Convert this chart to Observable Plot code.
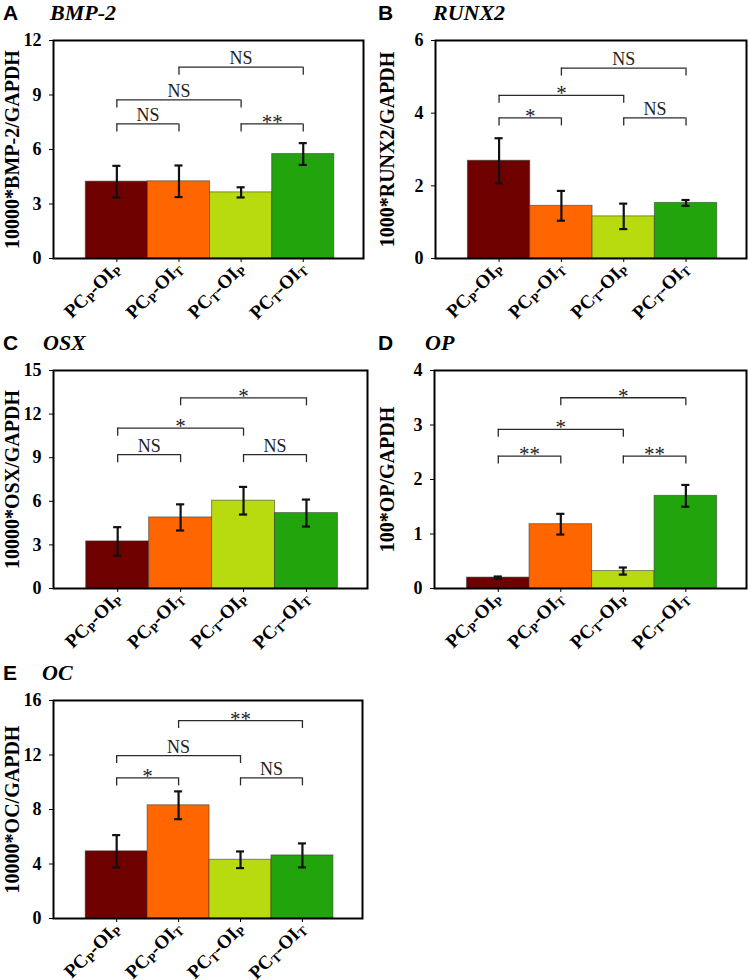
<!DOCTYPE html>
<html><head><meta charset="utf-8">
<script src="https://cdn.jsdelivr.net/npm/d3@7"></script>
<script src="https://cdn.jsdelivr.net/npm/@observablehq/plot@0.6"></script>
<style>
body{margin:0;background:#fff;width:750px;height:980px;position:relative;overflow:hidden}
.panel{position:absolute;width:375px;height:330px}
.panel svg{position:absolute;left:0;top:25px;overflow:visible}
.letter{position:absolute;top:0;font:bold 21px/1 "Liberation Sans",Arial,sans-serif;color:#000}
.gene{position:absolute;top:0;font:italic bold 22px/1 "Liberation Serif","Times New Roman",serif;color:#000}
</style></head><body>
<script>
// ---- data ----
const groups = ["PCP-OIP", "PCP-OIT", "PCT-OIP", "PCT-OIT"];
const groupColors = ["#6e0000", "#ff6600", "#b7db0e", "#22a50c"];
const bracketPairs = [[0, 1], [2, 3], [0, 2], [1, 3]];

const bmp2Mean = [4.23, 4.25, 3.64, 5.75];
const bmp2Err = [0.87, 0.87, 0.28, 0.60];
const bmp2Ticks = [0, 3, 6, 9, 12];
const bmp2BracketLevels = [7.41, 7.41, 8.73, 10.53];
const bmp2BracketLabels = ["NS", "**", "NS", "NS"];

const runx2Mean = [2.69, 1.45, 1.16, 1.53];
const runx2Err = [0.62, 0.41, 0.35, 0.08];
const runx2Ticks = [0, 2, 4, 6];
const runx2BracketLevels = [3.87, 3.87, 4.49, 5.24];
const runx2BracketLabels = ["*", "NS", "*", "NS"];

const osxMean = [3.24, 4.89, 6.04, 5.19];
const osxErr = [0.98, 0.90, 0.95, 0.93];
const osxTicks = [0, 3, 6, 9, 12, 15];
const osxBracketLevels = [9.21, 9.21, 11.03, 13.12];
const osxBracketLabels = ["NS", "NS", "*", "*"];

const opMean = [0.20, 1.18, 0.32, 1.70];
const opErr = [0.02, 0.19, 0.065, 0.20];
const opTicks = [0, 1, 2, 3, 4];
const opBracketLevels = [2.43, 2.43, 2.92, 3.50];
const opBracketLabels = ["**", "**", "*", "*"];

const ocMean = [4.93, 8.31, 4.31, 4.63];
const ocErr = [1.19, 1.02, 0.61, 0.88];
const ocTicks = [0, 4, 8, 12, 16];
const ocBracketLevels = [10.32, 10.32, 11.96, 14.53];
const ocBracketLabels = ["*", "NS", "NS", "**"];

const panels = [
  {letter: "A", gene: "BMP-2", label: "10000*BMP-2/GAPDH", mean: bmp2Mean, err: bmp2Err, ticks: bmp2Ticks, levels: bmp2BracketLevels, labels: bmp2BracketLabels,
   left: 0, top: 0, geneX: 50, ml: 53, mr: 12},
  {letter: "B", gene: "RUNX2", label: "1000*RUNX2/GAPDH", mean: runx2Mean, err: runx2Err, ticks: runx2Ticks, levels: runx2BracketLevels, labels: runx2BracketLabels,
   left: 375, top: 0, geneX: 58, ml: 60, mr: 4},
  {letter: "C", gene: "OSX", label: "10000*OSX/GAPDH", mean: osxMean, err: osxErr, ticks: osxTicks, levels: osxBracketLevels, labels: osxBracketLabels,
   left: 0, top: 330, geneX: 43, ml: 53, mr: 8},
  {letter: "D", gene: "OP", label: "100*OP/GAPDH", mean: opMean, err: opErr, ticks: opTicks, levels: opBracketLevels, labels: opBracketLabels,
   left: 375, top: 330, geneX: 50, ml: 59, mr: 4},
  {letter: "E", gene: "OC", label: "10000*OC/GAPDH", mean: ocMean, err: ocErr, ticks: ocTicks, levels: ocBracketLevels, labels: ocBracketLabels,
   left: 0, top: 660, geneX: 42, ml: 53, mr: 13}
];

const serif = '"Liberation Serif","Times New Roman",serif';

function drawPanel(p) {
  const div = document.createElement("div");
  div.className = "panel";
  div.style.left = p.left + "px";
  div.style.top = p.top + "px";
  document.body.appendChild(div);
  const l = document.createElement("div");
  l.className = "letter"; l.style.left = "3px"; l.style.top = "2px"; l.textContent = p.letter;
  const g = document.createElement("div");
  g.className = "gene"; g.style.left = p.geneX + "px"; g.style.top = "2px"; g.textContent = p.gene;
  div.appendChild(l); div.appendChild(g);

  const ymax = p.ticks[p.ticks.length - 1];
  const frameH = 218;
  const tip = 8 / frameH * ymax;
  const cap = 0.065;
  const rows = groups.map((name, i) => ({i, name, mean: p.mean[i], err: p.err[i], color: groupColors[i]}));
  const br = bracketPairs.map(([a, b], k) => ({a, b, level: p.levels[k], label: p.labels[k]}));
  const tips = br.flatMap(d => [{x: d.a, level: d.level}, {x: d.b, level: d.level}]);

  const plot = Plot.plot({
    width: 375, height: 300,
    marginTop: 15, marginBottom: 67, marginLeft: p.ml, marginRight: p.mr,
    style: {fontFamily: serif, fontWeight: "bold", fontSize: "18px", color: "#000", background: "transparent"},
    x: {domain: [-1.02, 3.97]},
    y: {domain: [0, ymax]},
    marks: [
      Plot.rectY(rows, {x1: d => d.i - 0.5, x2: d => d.i + 0.5, y1: 0, y2: "mean", fill: "color", stroke: "#333", strokeOpacity: 0.55, strokeWidth: 1}),
      Plot.ruleX(rows, {x: "i", y1: d => d.mean - d.err, y2: d => d.mean + d.err, stroke: "#111", strokeWidth: 2.2}),
      Plot.ruleY(rows, {y: d => d.mean - d.err, x1: d => d.i - cap, x2: d => d.i + cap, stroke: "#111", strokeWidth: 2.2}),
      Plot.ruleY(rows, {y: d => d.mean + d.err, x1: d => d.i - cap, x2: d => d.i + cap, stroke: "#111", strokeWidth: 2.2}),
      Plot.ruleY(br, {y: "level", x1: "a", x2: "b", stroke: "#2a2a2a", strokeWidth: 1.3}),
      Plot.ruleX(tips, {x: "x", y1: "level", y2: d => d.level - tip, stroke: "#2a2a2a", strokeWidth: 1.3}),
      Plot.text(br.filter(d => d.label === "NS"), {x: d => (d.a + d.b) / 2, y: "level", text: "label", lineAnchor: "bottom", dy: -3,
        fontFamily: serif, fontWeight: "normal", fontSize: 18, fill: "#222"}),
      Plot.text(br.filter(d => d.label !== "NS"), {x: d => (d.a + d.b) / 2, y: "level", text: "label", lineAnchor: "bottom", dy: 5,
        fontFamily: serif, fontWeight: "normal", fontSize: 21, fill: "#222"}),
      Plot.axisY({ticks: p.ticks, tickFormat: d3.format("d"), tickSize: 4, tickPadding: 8, fontSize: 18, label: p.label, labelAnchor: "center", labelArrow: "none", labelOffset: p.ml - 4}),
      Plot.axisX({ticks: [0, 1, 2, 3], tickFormat: i => groups[i], tickSize: 4, tickPadding: 3, tickRotate: -45, fontSize: 19, label: null}),
      Plot.frame({stroke: "#000", strokeWidth: 2})
    ]
  });
  div.appendChild(plot);

  const svg = d3.select(plot);
  svg.selectAll('g[aria-label="y-axis label"] text').style("font-size", "20px").style("font-weight", "bold");
  svg.selectAll('g[aria-label="x-axis tick label"] text').each(function () {
    const t = d3.select(this);
    const s = this.textContent; // e.g. PCP-OIT
    t.text(null);
    t.append("tspan").text("PC");
    t.append("tspan").attr("font-size", 13).attr("dy", 3).text(s[2]);
    t.append("tspan").attr("dy", -3).text("-OI");
    t.append("tspan").attr("font-size", 13).attr("dy", 3).text(s[6]);
  });
}

panels.forEach(drawPanel);
</script>
</body></html>
